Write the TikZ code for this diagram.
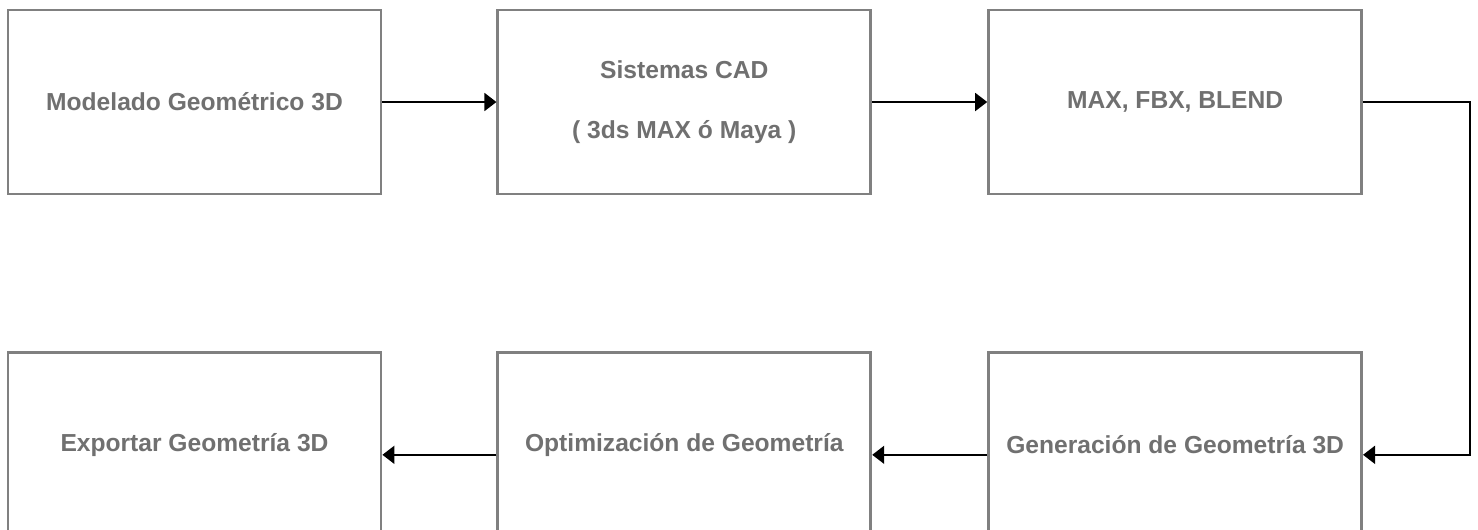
\documentclass[tikz,border=0pt]{standalone}
\usepackage{fontspec}
\setmainfont{Liberation Sans}
\usepackage{xcolor}
\usepackage{tikz}
\usetikzlibrary{arrows.meta, positioning}
\definecolor{boxgray}{RGB}{128,128,128}
\definecolor{textgray}{RGB}{112,112,112}

\begin{document}
\begin{tikzpicture}[
    every node/.style={font=\fontsize{14}{17}\selectfont\bfseries},
    block/.style={rectangle, draw=boxgray, line width=1.6pt, fill=white, minimum width=7.46cm, minimum height=3.68cm, align=center, text=textgray, inner sep=0pt},
    arrow/.style={-{Triangle[length=2.4mm, width=3.6mm]}, line width=1pt, black}
]
\clip (0,0) rectangle (29.56,-10.58);
\fill[white] (0,0) rectangle (29.56,-10.58);

\node[block] (model) at (3.89,-2.04) {Modelado Geométrico 3D};
\node[block, right=2.28cm of model] (cad) {Sistemas CAD\\[17pt]( 3ds MAX ó Maya )};
\node[block, right=2.3cm of cad] (formats) {MAX, FBX, BLEND};

\node[block, below=3.12cm of model] (export) {Exportar Geometría 3D};
\node[block, below=3.12cm of cad] (opt) {Optimización de Geometría};
\node[block, below=3.12cm of formats] (gen) {Generación de Geometría 3D};

\coordinate (turn) at (29.4,0 |- formats.east);

\draw[arrow] (model) -- (cad);
\draw[arrow] (cad) -- (formats);
\draw[arrow] (formats.east) -- (turn) |- ([yshift=-0.2cm]gen.east);
\draw[arrow] ([yshift=-0.2cm]gen.west) -- ([yshift=-0.2cm]opt.east);
\draw[arrow] ([yshift=-0.2cm]opt.west) -- ([yshift=-0.2cm]export.east);

\end{tikzpicture}
\end{document}
